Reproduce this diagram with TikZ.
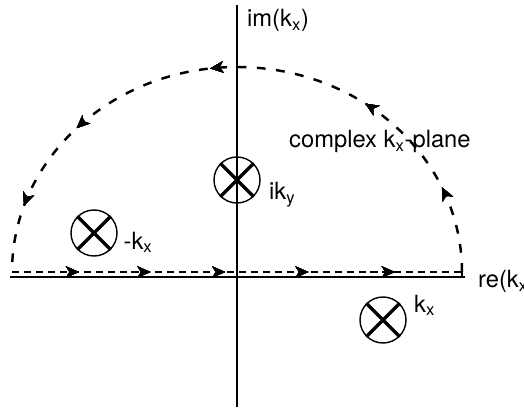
\documentclass[tikz,border=0pt]{standalone}
\usepackage{fontspec}
\setmainfont{TeX Gyre Heros}
\usepackage{tikz}
\usetikzlibrary{positioning, arrows.meta, calc, decorations.markings}

\begin{document}
\begin{tikzpicture}[font=\fontsize{13.5}{15}\selectfont,
    pole/.style={draw, circle, line width=0.8pt, minimum size=0.92cm, inner sep=0pt},
    poleX/.style={line width=1.9pt},
    axisline/.style={line width=0.9pt},
    contourline/.style={line width=0.9pt, dash pattern=on 4pt off 2.8pt},
    arcline/.style={line width=1.4pt, dash pattern=on 5pt off 6pt},
    tip/.style={postaction={decorate}, decoration={markings,
        mark=at position #1 with {\arrow{Stealth[length=7.5pt, width=6.5pt, inset=2pt]}}}}]
  \useasboundingbox (-4.74,-2.6) rectangle (5.74,5.54);

  % axes
  \coordinate (o) at (0,0);
  \draw[axisline] (0,-2.6) -- (0,5.44);
  \draw[axisline] (-4.54,0) -- (4.56,0);
  \node[anchor=base west] (im) at (0.08,5.0) {im(k\textsubscript{x})};
  \node[anchor=base west] (re) at (4.7,-0.22) {re(k\textsubscript{x})};

  % contour
  \coordinate (a) at (-4.5,0.1);
  \coordinate (b) at (4.5,0.1);
  \draw[contourline, tip=0.149, tip=0.308, tip=0.474, tip=0.659, tip=0.851] (a) -- (b);
  \draw[arcline, tip=0.13, tip=0.3, tip=0.54, tip=0.76, tip=0.9]
    (b) arc[start angle=0, end angle=180, x radius=4.5, y radius=4.1];
  \draw[line width=0.9pt] (b) -- ++(0,-0.1);

  % poles
  \node[pole] (iky) at (0,1.94) {};
  \node[pole] (mkx) at (-2.86,0.88) {};
  \node[pole] (kx) at (2.92,-0.86) {};
  \foreach \n in {iky, mkx, kx}
    \draw[poleX] (\n.135) -- (\n.-45) (\n.45) -- (\n.-135);

  \node[anchor=base west] (ikylabel) at ($(iky)+(0.52,-0.4)$) {ik\textsubscript{y}};
  \node[anchor=base west] (mkxlabel) at ($(mkx)+(0.47,-0.32)$) {-k\textsubscript{x}};
  \node[anchor=base west] (kxlabel) at ($(kx)+(0.5,0.16)$) {k\textsubscript{x}};
  \node[anchor=base west] (plane) at (0.92,2.58) {complex k\textsubscript{x}-plane};
\end{tikzpicture}
\end{document}
